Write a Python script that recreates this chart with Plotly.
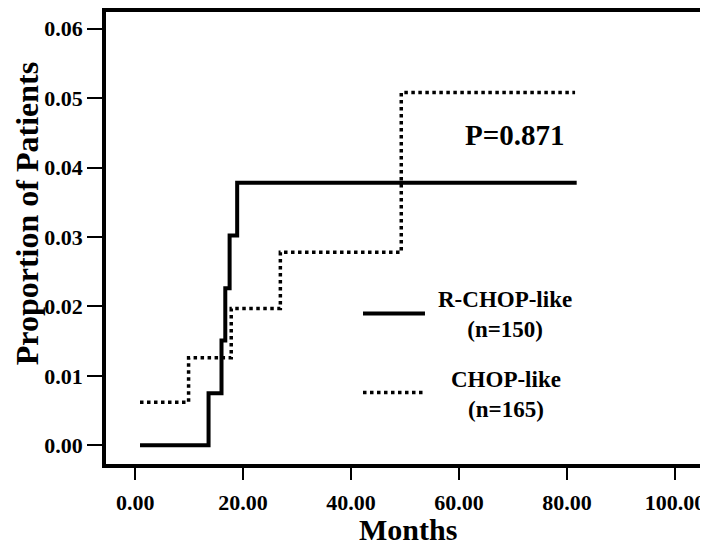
import plotly.graph_objects as go

# cumulative incidence
rchop_months = [0.9, 13.6, 16.0, 16.7, 17.5, 18.9, 81.8]
rchop_prop = [0.0, 0.0075, 0.0151, 0.0226, 0.0302, 0.0378, 0.0378]
chop_months = [0.9, 9.9, 17.8, 26.9, 49.3, 81.5]
chop_prop = [0.0062, 0.0126, 0.0197, 0.0278, 0.0508, 0.0508]

x_ticks = [0, 20, 40, 60, 80, 100]
y_ticks = [0.00, 0.01, 0.02, 0.03, 0.04, 0.05, 0.06]
p_label = "P=0.871"
FONT = "Liberation Serif"

fig = go.Figure()
fig.add_trace(go.Scatter(x=rchop_months, y=rchop_prop, mode="lines", line_shape="hv",
                         line=dict(color="black", width=4), name="R-CHOP-like (n=150)"))
fig.add_trace(go.Scatter(x=chop_months, y=chop_prop, mode="lines", line_shape="hv",
                         line=dict(color="black", width=3.5, dash="dot"), name="CHOP-like (n=165)"))

axis_common = dict(showline=True, linecolor="black", linewidth=3.5, mirror=True,
                   showgrid=False, zeroline=False, ticks="outside", tickcolor="black",
                   tickwidth=2, tickfont=dict(family=FONT, size=22, color="black", weight="bold"))

fig.update_xaxes(range=[-5.4, 105.2], tickvals=x_ticks,
                 ticktext=[f"{v:.2f}" for v in x_ticks], ticklen=12,
                 ticklabelstandoff=4, **axis_common)
fig.update_yaxes(range=[-0.0027, 0.0624], tickvals=y_ticks,
                 ticktext=[f"{v:.2f}" for v in y_ticks], ticklen=15, **axis_common)

bold = lambda s: f"<b>{s}</b>"
anns = [
    dict(text=bold("Proportion of Patients"), x=-0.132, y=0.553, textangle=-90, size=32),
    dict(text=bold("Months"), x=0.506, y=-0.144, textangle=0, size=30),
    dict(text=bold(p_label), x=0.685, y=0.728, textangle=0, size=29),
    dict(text=bold("R-CHOP-like<br>(n=150)"), x=0.668, y=0.331, textangle=0, size=23),
    dict(text=bold("CHOP-like<br>(n=165)"), x=0.670, y=0.154, textangle=0, size=23),
]
for a in anns:
    fig.add_annotation(text=a["text"], x=a["x"], y=a["y"], xref="paper", yref="paper",
                       xanchor="center", yanchor="middle", textangle=a["textangle"],
                       showarrow=False, align="center", borderpad=0,
                       font=dict(family=FONT, size=a["size"], color="black"))

# legend keys
fig.add_shape(type="line", xref="paper", yref="paper", x0=0.4305, x1=0.5343, y0=0.333, y1=0.333,
              line=dict(color="black", width=4))
fig.add_shape(type="line", xref="paper", yref="paper", x0=0.4305, x1=0.5343, y0=0.158, y1=0.158,
              line=dict(color="black", width=3.5, dash="dot"))

# page body adds an 8px margin, so the figure is 700x538
fig.update_layout(width=700, height=538, showlegend=False,
                  margin=dict(l=98, r=5, t=0, b=82),
                  plot_bgcolor="white", paper_bgcolor="white")

fig.write_html("out.html")
